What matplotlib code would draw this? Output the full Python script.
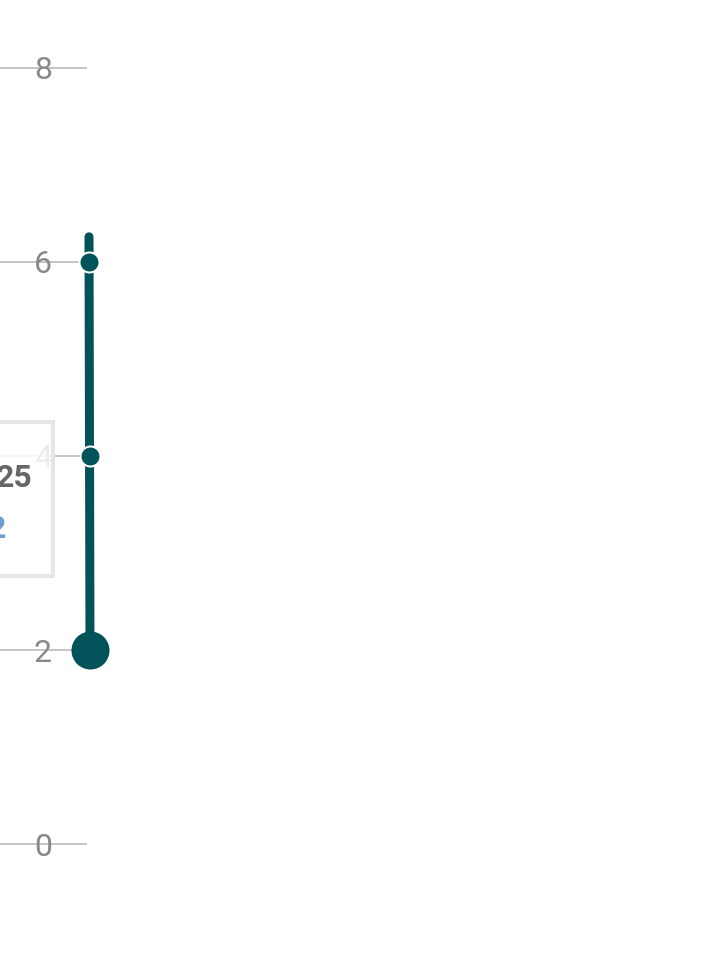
import matplotlib
matplotlib.use("Agg")
import matplotlib.pyplot as plt
from matplotlib.patches import Rectangle

# data
y_ticks = [0, 2, 4, 6, 8]
y_tick_labels = ["0", "2", "4", "6", "8"]
point_values = [6, 4, 2]
point_sizes = [10, 10, 18]   # marker radii in px
line_top = 6.26
line_bottom = 2
tooltip_title = "25"
tooltip_value = "2"

W, H = 726, 957
fig = plt.figure(figsize=(W / 100, H / 100), dpi=100)
ax = fig.add_axes([0, 0, 1, 1])
ax.set_xlim(0, W)
# y=8 at 68px from top, y=0 at 844px
ppu = (844 - 68) / 8.0
ymin = -(H - 844) / ppu
ymax = 8 + 68 / ppu
ax.set_ylim(ymin, ymax)
ax.axis("off")

px2pt = 72 / 100.0

# gridlines
ax.hlines(y_ticks, 0, 87, color="#bbbbbb", lw=1.2, zorder=1)
for v, lab in zip(y_ticks, y_tick_labels):
    ax.text(43, v - 3 / ppu, lab, ha="center", va="center", fontsize=23,
            color="#888888", family="Roboto", fontweight="normal", zorder=2)

# tooltip box (semi-transparent white with light grey border)
y_top = ymax - 422 / ppu
y_bot = ymax - 576 / ppu
ax.add_patch(Rectangle((-20, y_bot), 73, y_top - y_bot, facecolor="white",
                       alpha=0.85, edgecolor="none", zorder=3))
ax.add_patch(Rectangle((-20, y_bot), 73, y_top - y_bot, facecolor="none",
                       edgecolor="#e6e6e6", lw=4 * px2pt, zorder=4))
ax.text(33, ymax - 478 / ppu, tooltip_title, ha="right", va="center",
        fontsize=23, color="#666666", family="Roboto", fontweight="bold", zorder=5)
ax.text(6, ymax - 529 / ppu, tooltip_value, ha="right", va="center",
        fontsize=23, color="#6a9fcf", family="Roboto", fontweight="bold", zorder=5)

# vertical line
col = "#02525a"
ax.plot([89, 90], [line_top, line_bottom], color=col, lw=9 * px2pt,
        solid_capstyle="round", zorder=6)

# markers
for v, r in zip(point_values, point_sizes):
    x = 89 + (line_top - v) / (line_top - line_bottom)
    ms = 2 * r * px2pt
    ax.plot([x], [v], "o", ms=ms, color=col,
            mec="white" if r < 15 else col, mew=2 * px2pt, zorder=7)

fig.savefig("out.png", dpi=100, facecolor="white")
